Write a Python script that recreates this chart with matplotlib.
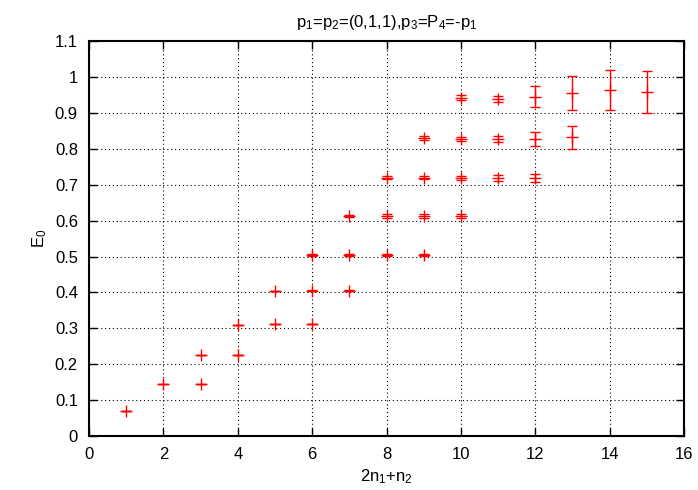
import matplotlib
matplotlib.use('Agg')
from matplotlib import pyplot as plt

plt.rcParams['font.family'] = ['Liberation Sans', 'DejaVu Sans']
plt.rcParams['mathtext.fontset'] = 'custom'
plt.rcParams['mathtext.rm'] = 'Liberation Sans'
plt.rcParams['mathtext.it'] = 'Liberation Sans'

# 2n1+n2, energy, error
x = [1, 2, 3, 3, 4, 4, 5, 5, 6, 6, 6, 7, 7, 7,
     8, 8, 8, 9, 9, 9, 9, 10, 10, 10, 10,
     11, 11, 11, 12, 12, 12, 13, 13, 14, 15]
e0 = [0.070, 0.145, 0.225, 0.145, 0.310, 0.225, 0.405, 0.312, 0.505, 0.405, 0.312,
      0.613, 0.505, 0.405, 0.720, 0.613, 0.505, 0.830, 0.720, 0.613, 0.505,
      0.943, 0.828, 0.718, 0.613, 0.939, 0.827, 0.719, 0.945, 0.828, 0.719,
      0.956, 0.832, 0.964, 0.959]
err = [0.0, 0.0, 0.0, 0.0, 0.0, 0.0, 0.0, 0.0, 0.002, 0.001, 0.0,
       0.004, 0.003, 0.002, 0.005, 0.005, 0.003, 0.005, 0.005, 0.005, 0.003,
       0.008, 0.006, 0.006, 0.006, 0.008, 0.009, 0.009, 0.029, 0.020, 0.010,
       0.048, 0.032, 0.057, 0.058]

xticks = [0, 2, 4, 6, 8, 10, 12, 14, 16]
yticks = [0, 0.1, 0.2, 0.3, 0.4, 0.5, 0.6, 0.7, 0.8, 0.9, 1, 1.1]
ylabels = ['0', '0.1', '0.2', '0.3', '0.4', '0.5', '0.6', '0.7', '0.8', '0.9', '1', '1.1']

fig = plt.figure(figsize=(6.98, 4.9), dpi=100)
ax = fig.add_axes([0.1275, 0.110, 0.8525, 0.806])

ax.errorbar(x, e0, yerr=err, fmt='+', color='red', ms=8.5, mew=1.0,
            elinewidth=1.0, capsize=3.5, capthick=1.0)

ax.set_xlim(0, 16)
ax.set_ylim(0, 1.1)
ax.set_xticks(xticks)
ax.set_yticks(yticks)
ax.set_yticklabels(ylabels)
ax.tick_params(direction='in', top=True, right=True, length=6, width=1.0,
               labelsize=12, pad=8)
ax.grid(True, color='black', linestyle=(0, (1, 2.5)), linewidth=0.8)
for s in ax.spines.values():
    s.set_linewidth(1.5)

ax.set_xlabel('2n$_1$+n$_2$', fontsize=12)
ax.set_ylabel('E$_0$', fontsize=12)
ax.set_title('p$_1$=p$_2$=(0,1,1),p$_3$=P$_4$=-p$_1$', fontsize=12, pad=10)

fig.savefig('out.png', dpi=100)
